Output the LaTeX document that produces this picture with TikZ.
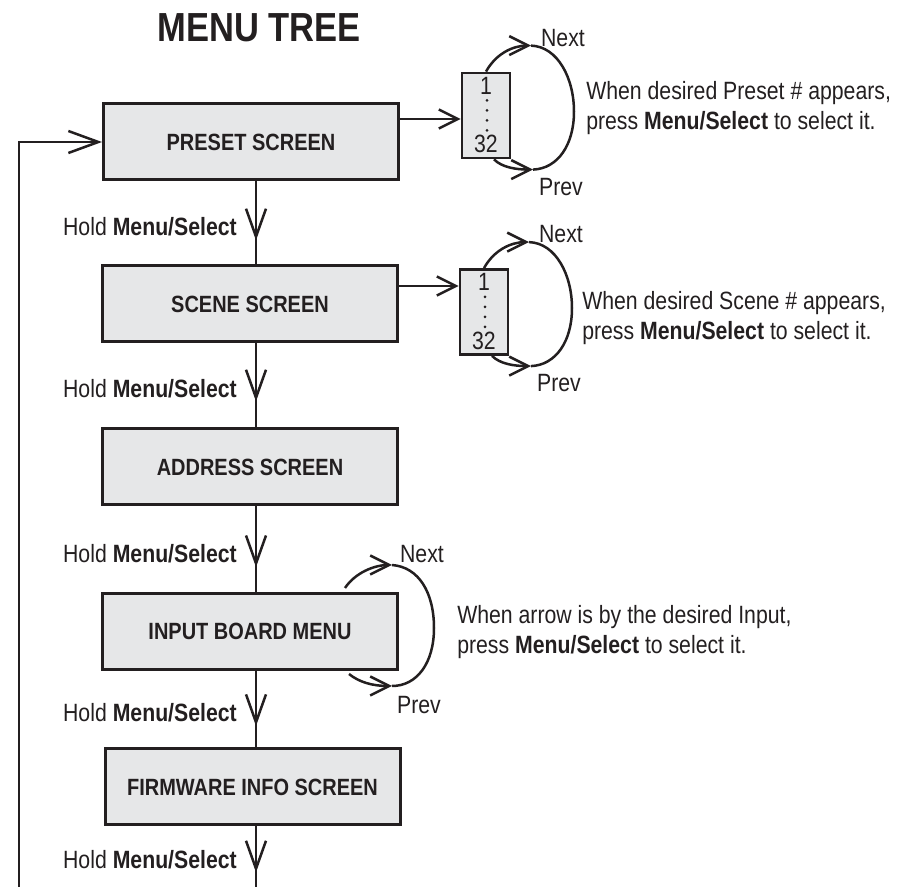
\documentclass[tikz,border=0pt]{standalone}
\usepackage{fontspec}
\setmainfont{Liberation Sans}[FakeStretch=0.85]
\usetikzlibrary{arrows.meta,decorations.markings}

\definecolor{ink}{HTML}{231F20}
\definecolor{boxgray}{HTML}{E6E7E8}

\tikzset{
  screen/.style={draw=ink,fill=boxgray,line width=1.5pt,minimum width=147.5pt,
    minimum height=38pt,inner sep=0pt,font=\fontsize{11.75}{14}\selectfont\bfseries},
  listbox/.style={draw=ink,fill=boxgray,line width=1.4pt,minimum width=24pt,
    minimum height=42.5pt,inner sep=0pt},
  longtip/.style={-{Straight Barb[length=15pt,width=11pt]}},
  shorttip/.style={-{Straight Barb[length=9.5pt,width=9.5pt]}},
  holdline/.style={postaction={decorate},decoration={markings,
    mark=at position #1 with {\arrow{Straight Barb[length=14pt,width=10pt]}}}},
  lbl/.style={inner sep=0pt,font=\fontsize{12.5}{15}\selectfont},
  holdlabel/.style={lbl,left=9pt},
  note/.style={lbl,align=left,anchor=west},
}

\begin{document}
\begin{tikzpicture}[x=0.5pt,y=-0.5pt,line width=1.25pt,color=ink]
  \useasboundingbox (0,0) rectangle (907,887);

  \node[inner sep=0pt,font=\fontsize{20.3}{24}\selectfont\bfseries] (title) at (259,28) {MENU TREE};

  % menu screens
  \node[screen] (preset) at (251,142) {PRESET SCREEN};
  \node[screen] (scene) at (250,304) {SCENE SCREEN};
  \node[screen] (address) at (250,467) {ADDRESS SCREEN};
  \node[screen] (input) at (250,631.5) {INPUT BOARD MENU};
  \node[screen] (firmware) at (252.5,787) {FIRMWARE INFO SCREEN};

  \coordinate (spine) at (256,887);
  \coordinate (back) at (19,887);

  \draw[holdline=0.71] (preset.south -| spine) -- (scene.north -| spine)
    node[holdlabel,pos=0.55] (hold1) {Hold \textbf{Menu/Select}};
  \draw[holdline=0.69] (scene.south -| spine) -- (address.north -| spine)
    node[holdlabel,pos=0.54] (hold2) {Hold \textbf{Menu/Select}};
  \draw[holdline=0.71] (address.south -| spine) -- (input.north -| spine)
    node[holdlabel,pos=0.55] (hold3) {Hold \textbf{Menu/Select}};
  \draw[holdline=0.72] (input.south -| spine) -- (firmware.north -| spine)
    node[holdlabel,pos=0.55] (hold4) {Hold \textbf{Menu/Select}};
  \draw[holdline=0.76] (firmware.south -| spine) -- (spine)
    node[holdlabel,pos=0.55] (hold5) {Hold \textbf{Menu/Select}};
  \draw[longtip] (back) |- (preset.west);

  % number lists
  \node[listbox] (presetlist) at (486,115.5) {};
  \node[listbox] (scenelist) at (484,312) {};
  \coordinate (presetin) at ([yshift=-1.75pt]presetlist.west);
  \coordinate (scenein) at ([yshift=13pt]scenelist.west);
  \draw[shorttip] (preset.east |- presetin) -- (presetin);
  \draw[shorttip] (scene.east |- scenein) -- (scenein);

  \foreach \l in {presetlist,scenelist} {
    \node[lbl,below=2pt] (\l-first) at (\l.north) {1};
    \node[lbl,above=2.5pt] (\l-last) at (\l.south) {32};
    \foreach \d in {7.5,2.5,-2.5,-7.5}
      \fill ([xshift=0.5pt,yshift=\d pt]\l.center) circle (1.5);
    \draw[shorttip] (\l.north) .. controls +(10,-18) and +(-18,0) .. ++(45,-26) coordinate (\l-next);
    \draw (\l-next) .. controls +(27,1) and +(0,-33) .. ++(43,66)
      .. controls +(0,33) and +(25,-1) .. ++(-41,58) coordinate (\l-prev);
    \draw[shorttip] ([xshift=4pt]\l.south) .. controls +(8,8) and +(-17,0) .. (\l-prev);
    \node[lbl] (\l-nexttext) at ([xshift=16pt,yshift=4pt]\l-next) {Next};
    \node[lbl] (\l-prevtext) at ([xshift=14pt,yshift=-8.5pt]\l-prev) {Prev};
  }

  % input selection loop
  \draw[shorttip] ([xshift=-27pt,yshift=2pt]input.north east)
    .. controls +(10,-15) and +(-18,0) .. ++(47,-23) coordinate (input-next);
  \draw (input-next) .. controls +(27,2) and +(0,-35) .. ++(42,63)
    .. controls +(0,35) and +(25,0) .. ++(-42,58) coordinate (input-prev);
  \draw[shorttip] ([xshift=-25pt,yshift=-1.5pt]input.south east)
    .. controls +(10,8) and +(-20,0) .. (input-prev);
  \node[lbl] (input-nexttext) at ([xshift=15pt,yshift=5.5pt]input-next) {Next};
  \node[lbl] (input-prevtext) at ([xshift=13.5pt,yshift=-9.5pt]input-prev) {Prev};

  \node[note] (presetnote) at (585,108) {When desired Preset \# appears,\\press \textbf{Menu/Select} to select it.};
  \node[note] (scenenote) at (581,318) {When desired Scene \# appears,\\press \textbf{Menu/Select} to select it.};
  \node[note] (inputnote) at (456,632) {When arrow is by the desired Input,\\press \textbf{Menu/Select} to select it.};
\end{tikzpicture}
\end{document}
